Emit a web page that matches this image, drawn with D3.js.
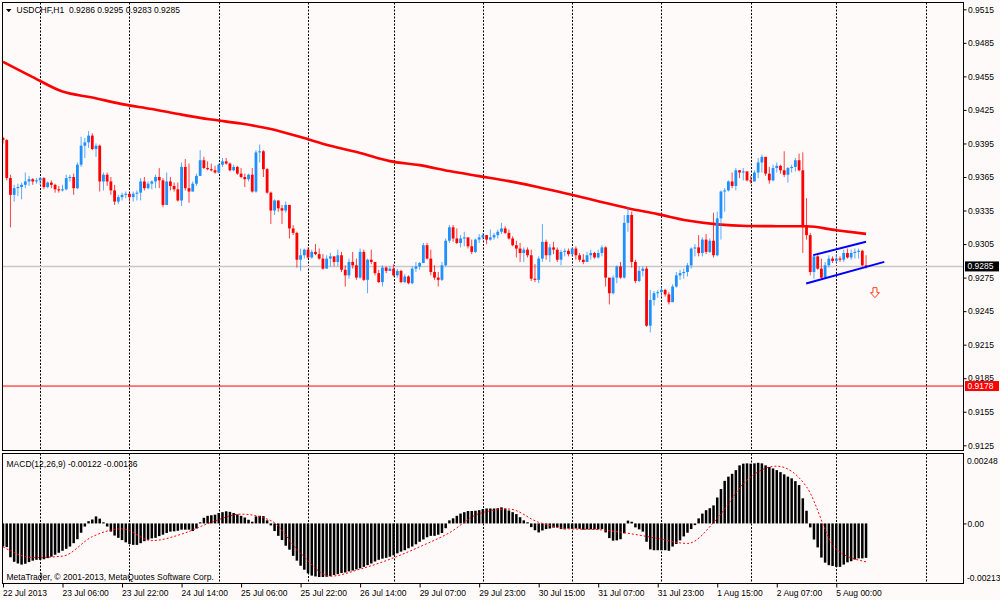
<!DOCTYPE html>
<html>
  <head>
    <meta charset="utf-8">
    <title>USDCHF,H1</title>
    <style>
      body { margin: 0; background: #fffafa; }
      svg { display: block; }
      text { font-family: "Liberation Sans", Arial, sans-serif; font-size: 8.5px; fill: #000; }
    </style>
  </head>
  <body>
    <script src="https://cdn.jsdelivr.net/npm/d3@7"></script>
    <script>
      // ---- data ----
      var symbol = 'USDCHF,H1';
      var firstOpen = 0.9400; // open of the first bar, the others open at the previous close

      var closes = [
        0.9398, 0.9364, 0.9349, 0.9355, 0.9356, 0.9358, 0.9361, 0.9363, 0.9361, 0.9362,
        0.9364, 0.9356, 0.9360, 0.9358, 0.9354, 0.9353, 0.9354, 0.9364, 0.9365, 0.9355,
        0.9376, 0.9393, 0.9396, 0.9402, 0.9390, 0.9393, 0.9361, 0.9367, 0.9361, 0.9353,
        0.9343, 0.9347, 0.9349, 0.9350, 0.9347, 0.9350, 0.9351, 0.9361, 0.9355, 0.9359,
        0.9361, 0.9365, 0.9362, 0.9340, 0.9361, 0.9357, 0.9354, 0.9344, 0.9374, 0.9355,
        0.9352, 0.9359, 0.9366, 0.9380, 0.9373, 0.9372, 0.9371, 0.9369, 0.9376, 0.9379,
        0.9377, 0.9371, 0.9374, 0.9368, 0.9365, 0.9363, 0.9367, 0.9352, 0.9387, 0.9388,
        0.9372, 0.9351, 0.9335, 0.9344, 0.9337, 0.9335, 0.9340, 0.9319, 0.9315, 0.9291,
        0.9295, 0.9300, 0.9293, 0.9298, 0.9296, 0.9292, 0.9283, 0.9292, 0.9294, 0.9289,
        0.9295, 0.9282, 0.9277, 0.9289, 0.9286, 0.9275, 0.9298, 0.9273, 0.9291, 0.9289,
        0.9279, 0.9271, 0.9284, 0.9281, 0.9283, 0.9277, 0.9281, 0.9271, 0.9276, 0.9270,
        0.9283, 0.9285, 0.9288, 0.9304, 0.9292, 0.9280, 0.9275, 0.9273, 0.9286, 0.9308,
        0.9320, 0.9310, 0.9306, 0.9310, 0.9311, 0.9303, 0.9298, 0.9309, 0.9311, 0.9313,
        0.9309, 0.9311, 0.9313, 0.9316, 0.9319, 0.9315, 0.9310, 0.9304, 0.9301, 0.9297,
        0.9300, 0.9295, 0.9274, 0.9273, 0.9292, 0.9307, 0.9295, 0.9302, 0.9300, 0.9291,
        0.9298, 0.9299, 0.9296, 0.9301, 0.9295, 0.9291, 0.9289, 0.9295, 0.9297, 0.9293,
        0.9297, 0.9302, 0.9275, 0.9261, 0.9275, 0.9285, 0.9275, 0.9324, 0.9331, 0.9289,
        0.9272, 0.9281, 0.9283, 0.9232, 0.9255, 0.9261, 0.9262, 0.9264, 0.9260, 0.9253,
        0.9267, 0.9277, 0.9279, 0.9280, 0.9286, 0.9301, 0.9302, 0.9297, 0.9309, 0.9298,
        0.9308, 0.9295, 0.9328, 0.9352, 0.9353, 0.9361, 0.9357, 0.9371, 0.9369, 0.9370,
        0.9362, 0.9361, 0.9369, 0.9378, 0.9383, 0.9368, 0.9362, 0.9373, 0.9375, 0.9371,
        0.9367, 0.9373, 0.9374, 0.9380, 0.9371, 0.9322, 0.9313, 0.9280, 0.9294, 0.9283,
        0.9275, 0.9286, 0.9292, 0.9290, 0.9292, 0.9291, 0.9297, 0.9293, 0.9297, 0.9298,
        0.9299, 0.9286, 0.9285
      ];

      var highs = [
        0.9401, 0.9399, 0.9367, 0.9358, 0.9359, 0.9360, 0.9369, 0.9366, 0.9364, 0.9364,
        0.9365, 0.9365, 0.9361, 0.9362, 0.9359, 0.9357, 0.9358, 0.9367, 0.9367, 0.9368,
        0.9378, 0.9401, 0.9400, 0.9406, 0.9404, 0.9395, 0.9394, 0.9369, 0.9369, 0.9365,
        0.9358, 0.9349, 0.9351, 0.9352, 0.9351, 0.9352, 0.9353, 0.9364, 0.9365, 0.9361,
        0.9362, 0.9367, 0.9373, 0.9364, 0.9369, 0.9365, 0.9360, 0.9360, 0.9378, 0.9381,
        0.9377, 0.9361, 0.9368, 0.9389, 0.9383, 0.9379, 0.9377, 0.9375, 0.9377, 0.9382,
        0.9382, 0.9378, 0.9376, 0.9375, 0.9373, 0.9368, 0.9368, 0.9373, 0.9389, 0.9394,
        0.9389, 0.9373, 0.9352, 0.9345, 0.9344, 0.9340, 0.9343, 0.9340, 0.9322, 0.9316,
        0.9301, 0.9301, 0.9302, 0.9300, 0.9305, 0.9301, 0.9296, 0.9295, 0.9297, 0.9294,
        0.9300, 0.9298, 0.9286, 0.9292, 0.9298, 0.9292, 0.9301, 0.9300, 0.9292, 0.9300,
        0.9289, 0.9282, 0.9286, 0.9285, 0.9285, 0.9287, 0.9283, 0.9282, 0.9278, 0.9277,
        0.9285, 0.9289, 0.9289, 0.9306, 0.9306, 0.9300, 0.9286, 0.9280, 0.9289, 0.9310,
        0.9322, 0.9322, 0.9319, 0.9313, 0.9316, 0.9309, 0.9309, 0.9310, 0.9314, 0.9315,
        0.9313, 0.9318, 0.9315, 0.9318, 0.9324, 0.9321, 0.9318, 0.9312, 0.9308, 0.9306,
        0.9302, 0.9302, 0.9300, 0.9287, 0.9294, 0.9323, 0.9309, 0.9305, 0.9307, 0.9302,
        0.9300, 0.9301, 0.9301, 0.9302, 0.9303, 0.9297, 0.9296, 0.9298, 0.9300, 0.9298,
        0.9300, 0.9304, 0.9303, 0.9274, 0.9277, 0.9286, 0.9289, 0.9331, 0.9338, 0.9334,
        0.9291, 0.9285, 0.9285, 0.9285, 0.9264, 0.9263, 0.9264, 0.9267, 0.9265, 0.9262,
        0.9269, 0.9280, 0.9282, 0.9283, 0.9288, 0.9302, 0.9305, 0.9313, 0.9311, 0.9314,
        0.9310, 0.9333, 0.9334, 0.9353, 0.9355, 0.9362, 0.9369, 0.9373, 0.9371, 0.9373,
        0.9370, 0.9366, 0.9371, 0.9382, 0.9385, 0.9383, 0.9374, 0.9376, 0.9378, 0.9376,
        0.9388, 0.9374, 0.9376, 0.9382, 0.9386, 0.9387, 0.9346, 0.9315, 0.9296, 0.9295,
        0.9292, 0.9289, 0.9295, 0.9294, 0.9296, 0.9294, 0.9300, 0.9301, 0.9300, 0.9301,
        0.9301, 0.9300, 0.9295
      ];

      var lows = [
        0.9395, 0.9362, 0.9320, 0.9343, 0.9348, 0.9345, 0.9355, 0.9357, 0.9358, 0.9359,
        0.9358, 0.9354, 0.9355, 0.9355, 0.9351, 0.9351, 0.9352, 0.9353, 0.9361, 0.9349,
        0.9354, 0.9374, 0.9382, 0.9391, 0.9389, 0.9383, 0.9352, 0.9353, 0.9357, 0.9349,
        0.9340, 0.9341, 0.9344, 0.9346, 0.9343, 0.9343, 0.9344, 0.9344, 0.9353, 0.9354,
        0.9354, 0.9355, 0.9355, 0.9338, 0.9340, 0.9353, 0.9352, 0.9343, 0.9339, 0.9353,
        0.9342, 0.9352, 0.9357, 0.9366, 0.9372, 0.9371, 0.9370, 0.9368, 0.9368, 0.9374,
        0.9376, 0.9370, 0.9370, 0.9367, 0.9364, 0.9356, 0.9361, 0.9351, 0.9351, 0.9378,
        0.9365, 0.9350, 0.9323, 0.9331, 0.9334, 0.9323, 0.9333, 0.9310, 0.9313, 0.9284,
        0.9281, 0.9292, 0.9292, 0.9292, 0.9295, 0.9291, 0.9282, 0.9285, 0.9285, 0.9285,
        0.9285, 0.9280, 0.9267, 0.9274, 0.9283, 0.9273, 0.9274, 0.9272, 0.9261, 0.9287,
        0.9277, 0.9270, 0.9267, 0.9279, 0.9281, 0.9276, 0.9275, 0.9270, 0.9270, 0.9269,
        0.9269, 0.9280, 0.9282, 0.9289, 0.9291, 0.9277, 0.9273, 0.9267, 0.9272, 0.9285,
        0.9306, 0.9307, 0.9305, 0.9302, 0.9303, 0.9301, 0.9296, 0.9297, 0.9306, 0.9309,
        0.9305, 0.9308, 0.9309, 0.9310, 0.9314, 0.9314, 0.9309, 0.9303, 0.9293, 0.9289,
        0.9289, 0.9293, 0.9272, 0.9271, 0.9270, 0.9289, 0.9291, 0.9289, 0.9296, 0.9289,
        0.9286, 0.9294, 0.9294, 0.9294, 0.9291, 0.9289, 0.9287, 0.9290, 0.9291, 0.9292,
        0.9292, 0.9294, 0.9267, 0.9251, 0.9260, 0.9270, 0.9274, 0.9274, 0.9316, 0.9284,
        0.9270, 0.9271, 0.9276, 0.9231, 0.9226, 0.9250, 0.9257, 0.9258, 0.9258, 0.9251,
        0.9255, 0.9266, 0.9273, 0.9274, 0.9276, 0.9283, 0.9294, 0.9294, 0.9294, 0.9296,
        0.9297, 0.9293, 0.9294, 0.9309, 0.9334, 0.9352, 0.9355, 0.9353, 0.9364, 0.9362,
        0.9361, 0.9359, 0.9361, 0.9364, 0.9369, 0.9366, 0.9359, 0.9361, 0.9369, 0.9368,
        0.9365, 0.9360, 0.9369, 0.9370, 0.9370, 0.9297, 0.9309, 0.9277, 0.9274, 0.9282,
        0.9274, 0.9274, 0.9284, 0.9288, 0.9288, 0.9289, 0.9289, 0.9292, 0.9291, 0.9292,
        0.9292, 0.9285, 0.9283
      ];

      // moving average, one value every maStep bars
      var maStep = 8;
      var maValues = [
        0.94681, 0.94544, 0.94414, 0.94361, 0.94302, 0.94258, 0.94208, 0.94164, 0.94128, 0.94079,
        0.94007, 0.93929, 0.93864, 0.93792, 0.93756, 0.93703, 0.93658, 0.93613, 0.93559, 0.93497,
        0.93434, 0.93371, 0.93318, 0.93260, 0.93226, 0.93212, 0.93210, 0.93209, 0.93174, 0.93141
      ];

      // MACD(12,26,9) histogram, one value per bar
      var macdValues = [
        -0.00082, -0.00084, -0.00120, -0.00136, -0.00142, -0.00146, -0.00143, -0.00137, -0.00132, -0.00129,
        -0.00129, -0.00127, -0.00123, -0.00118, -0.00111, -0.00104, -0.00097, -0.00090, -0.00082, -0.00070,
        -0.00056, -0.00033, -0.00011, 0.00008, 0.00014, 0.00025, 0.00017, 0.00004, -0.00011, -0.00029,
        -0.00043, -0.00051, -0.00059, -0.00067, -0.00073, -0.00076, -0.00076, -0.00070, -0.00063, -0.00058,
        -0.00053, -0.00051, -0.00045, -0.00040, -0.00034, -0.00029, -0.00028, -0.00026, -0.00022, -0.00022,
        -0.00022, -0.00027, -0.00018, 0.00004, 0.00020, 0.00027, 0.00029, 0.00031, 0.00037, 0.00040,
        0.00043, 0.00041, 0.00037, 0.00032, 0.00027, 0.00021, 0.00013, 0.00006, 0.00025, 0.00027,
        0.00026, 0.00011, -0.00007, -0.00027, -0.00044, -0.00059, -0.00079, -0.00093, -0.00115, -0.00132,
        -0.00150, -0.00164, -0.00177, -0.00185, -0.00188, -0.00190, -0.00190, -0.00189, -0.00187, -0.00183,
        -0.00180, -0.00176, -0.00174, -0.00170, -0.00167, -0.00163, -0.00159, -0.00154, -0.00148, -0.00142,
        -0.00135, -0.00129, -0.00125, -0.00122, -0.00118, -0.00113, -0.00106, -0.00100, -0.00095, -0.00088,
        -0.00082, -0.00074, -0.00065, -0.00057, -0.00049, -0.00044, -0.00044, -0.00040, -0.00034, -0.00017,
        0.00011, 0.00018, 0.00027, 0.00035, 0.00040, 0.00044, 0.00044, 0.00045, 0.00047, 0.00051,
        0.00053, 0.00053, 0.00053, 0.00054, 0.00057, 0.00053, 0.00046, 0.00040, 0.00033, 0.00022,
        0.00011, 0.00004, -0.00013, -0.00024, -0.00032, -0.00025, -0.00020, -0.00018, -0.00015, -0.00014,
        -0.00020, -0.00021, -0.00018, -0.00019, -0.00018, -0.00019, -0.00022, -0.00021, -0.00021, -0.00021,
        -0.00021, -0.00020, -0.00032, -0.00052, -0.00061, -0.00060, -0.00056, -0.00035, 0.00010, 0.00006,
        -0.00014, -0.00021, -0.00029, -0.00065, -0.00092, -0.00095, -0.00095, -0.00095, -0.00095, -0.00097,
        -0.00082, -0.00073, -0.00060, -0.00046, -0.00033, -0.00020, -0.00006, 0.00018, 0.00035, 0.00047,
        0.00054, 0.00064, 0.00092, 0.00122, 0.00151, 0.00166, 0.00176, 0.00189, 0.00206, 0.00212,
        0.00213, 0.00212, 0.00213, 0.00215, 0.00213, 0.00206, 0.00200, 0.00195, 0.00189, 0.00182,
        0.00174, 0.00166, 0.00160, 0.00150, 0.00136, 0.00089, 0.00045, -0.00014, -0.00057, -0.00085,
        -0.00121, -0.00139, -0.00148, -0.00151, -0.00154, -0.00154, -0.00146, -0.00138, -0.00134, -0.00128,
        -0.00124, -0.00124, -0.00122
      ];

      // signal line, one value every signalStep bars
      var signalStep = 8;
      var signalValues = [
        -0.00083, -0.00121, -0.00116, -0.00047, -0.00019, -0.00061, -0.00038, 0.00004, 0.00033, 0.00010,
        -0.00106, -0.00187, -0.00162, -0.00127, -0.00083, -0.00033, 0.00035, 0.00051, 0.00004, -0.00019,
        -0.00022, -0.00035, -0.00053, -0.00071, 0.00018, 0.00154, 0.00203, 0.00130, -0.00092, -0.00136
      ];

      var labelStep = 16;
      var timeLabels = ['22 Jul 2013', '23 Jul 06:00', '23 Jul 22:00', '24 Jul 14:00', '25 Jul 06:00',
        '25 Jul 22:00', '26 Jul 14:00', '29 Jul 07:00', '29 Jul 23:00', '30 Jul 15:00', '31 Jul 07:00',
        '31 Jul 23:00', '1 Aug 15:00', '2 Aug 07:00', '5 Aug 00:00'];
      var dayBars = [10, 34, 58, 82, 105, 129, 153, 177, 201, 224, 248]; // bars opening each day
      var priceTicks = [0.9515, 0.9485, 0.9455, 0.9425, 0.9395, 0.9365, 0.9335, 0.9305, 0.9275,
        0.9245, 0.9215, 0.9185, 0.9155, 0.9125];
      var bidPrice = 0.9285;
      var levelPrice = 0.9178;
      var macdMax = 0.00248, macdMin = -0.00213;
      // channel trend lines: [bar1, price1, bar2, price2]
      var channel = [[217.8, 0.92951, 232, 0.93070], [215.9, 0.92697, 236.9, 0.92891]];
      var arrowMark = {bar: 234.4, price: 0.9266};

      // ---- layout ----
      var
        width = 1000,
        height = 600,
        left = 2.5,
        right = 963.5,
        mainTop = 2.5,
        mainBottom = 450.5,
        subTop = 453.5,
        subBottom = 583.5,
        barStep = 3.72,
        bodyWidth = 2.8;

      var upColor = '#1e90ff', downColor = '#ff0000';

      var svg = d3.select('body')
        .append('svg')
        .attr('width', width)
        .attr('height', height);

      svg.append('rect')
        .attr('width', width)
        .attr('height', height)
        .attr('fill', '#fffafa');

      var x = d3.scaleLinear().domain([0, 1]).range([3, 3 + barStep]);
      var y = d3.scaleLinear().domain([0.9125, 0.9515]).range([445.3, 9.3]);
      var ym = d3.scaleLinear().domain([macdMin, macdMax]).range([subBottom, subTop]);

      var bars = closes.map(function(c, i) {
        return {i: i, o: i ? closes[i - 1] : firstOpen, h: highs[i], l: lows[i], c: c};
      });

      var defs = svg.append('defs');
      defs.append('clipPath').attr('id', 'mainClip')
        .append('rect')
        .attr('x', left).attr('y', mainTop)
        .attr('width', right - left).attr('height', mainBottom - mainTop);
      defs.append('clipPath').attr('id', 'subClip')
        .append('rect')
        .attr('x', left).attr('y', subTop)
        .attr('width', right - left).attr('height', subBottom - subTop);

      var main = svg.append('g').attr('clip-path', 'url(#mainClip)');
      var sub = svg.append('g').attr('clip-path', 'url(#subClip)');

      // day separators
      [[main, mainTop, mainBottom], [sub, subTop, subBottom]].forEach(function(p) {
        p[0].selectAll('.grid').data(dayBars).enter()
          .append('line')
          .classed('grid', true)
          .attr('x1', function(d) { return Math.round(x(d)) + 0.5; })
          .attr('x2', function(d) { return Math.round(x(d)) + 0.5; })
          .attr('y1', p[1])
          .attr('y2', p[2])
          .attr('stroke', '#000')
          .attr('stroke-dasharray', '2,1.5');
      });

      // horizontal level and bid line
      main.append('line')
        .attr('x1', left).attr('x2', right)
        .attr('y1', y(levelPrice)).attr('y2', y(levelPrice))
        .attr('stroke', '#ff0000');
      main.append('line')
        .attr('x1', left).attr('x2', right)
        .attr('y1', y(bidPrice)).attr('y2', y(bidPrice))
        .attr('stroke', '#c8c8c8')
        .attr('stroke-width', 1.6);

      // moving average
      var maLine = d3.line()
        .x(function(d, i) { return x(i * maStep); })
        .y(function(d) { return y(d); })
        .curve(d3.curveMonotoneX);
      main.append('path')
        .datum(maValues)
        .attr('d', maLine)
        .attr('fill', 'none')
        .attr('stroke', '#ff0000')
        .attr('stroke-width', 2.6);

      // candles
      var candle = main.selectAll('.candle').data(bars).enter()
        .append('g')
        .classed('candle', true);
      candle.append('line')
        .attr('x1', function(d) { return x(d.i); })
        .attr('x2', function(d) { return x(d.i); })
        .attr('y1', function(d) { return y(d.h); })
        .attr('y2', function(d) { return y(d.l); })
        .attr('stroke', function(d) { return d.c >= d.o ? upColor : downColor; })
        .attr('stroke-width', 1)
        .attr('stroke-opacity', 0.75);
      candle.append('rect')
        .attr('x', function(d) { return x(d.i) - bodyWidth / 2; })
        .attr('y', function(d) { return y(Math.max(d.o, d.c)); })
        .attr('width', bodyWidth)
        .attr('height', function(d) { return Math.max(1, Math.abs(y(d.o) - y(d.c))); })
        .attr('fill', function(d) { return d.c >= d.o ? upColor : downColor; });

      // channel
      main.selectAll('.trend').data(channel).enter()
        .append('line')
        .classed('trend', true)
        .attr('x1', function(d) { return x(d[0]); })
        .attr('y1', function(d) { return y(d[1]); })
        .attr('x2', function(d) { return x(d[2]); })
        .attr('y2', function(d) { return y(d[3]); })
        .attr('stroke', '#0000ff')
        .attr('stroke-width', 2);

      // sell arrow
      var ax = x(arrowMark.bar), ay = y(arrowMark.price);
      main.append('path')
        .attr('d', 'M' + (ax - 2) + ',' + ay + 'h4v5h2.5l-4.5,5l-4.5,-5h2.5z')
        .attr('fill', '#fff')
        .attr('stroke', '#ff3c14')
        .attr('stroke-width', 1);

      // MACD histogram and signal
      sub.selectAll('.hist').data(macdValues).enter()
        .append('rect')
        .classed('hist', true)
        .attr('x', function(d, i) { return x(i) - 1.25; })
        .attr('y', function(d) { return Math.min(ym(d), ym(0)); })
        .attr('width', 2.5)
        .attr('height', function(d) { return Math.abs(ym(d) - ym(0)); })
        .attr('fill', '#000');

      var signalLine = d3.line()
        .x(function(d, i) { return x(i * signalStep); })
        .y(function(d) { return ym(d); })
        .curve(d3.curveMonotoneX);
      sub.append('path')
        .datum(signalValues)
        .attr('d', signalLine)
        .attr('fill', 'none')
        .attr('stroke', '#ff0000')
        .attr('stroke-width', 1)
        .attr('stroke-dasharray', '2,2');

      // frames
      svg.append('rect')
        .attr('x', left).attr('y', mainTop)
        .attr('width', right - left).attr('height', mainBottom - mainTop)
        .attr('fill', 'none').attr('stroke', '#000');
      svg.append('rect')
        .attr('x', left).attr('y', subTop)
        .attr('width', right - left).attr('height', subBottom - subTop)
        .attr('fill', 'none').attr('stroke', '#000');

      // price axis
      var yAxis = d3.axisRight(y)
        .tickValues(priceTicks)
        .tickFormat(d3.format('.4f'))
        .tickSizeInner(3)
        .tickSizeOuter(0)
        .tickPadding(1.5);
      svg.append('g')
        .attr('transform', 'translate(' + right + ',0)')
        .call(yAxis)
        .call(function(g) { g.select('.domain').remove(); });

      // price boxes on the axis
      function priceBox(price, fill) {
        svg.append('rect')
          .attr('x', right + 1.5)
          .attr('y', y(price) - 5)
          .attr('width', 34)
          .attr('height', 10)
          .attr('fill', fill);
        svg.append('text')
          .attr('x', right + 4)
          .attr('y', y(price))
          .attr('dy', '0.35em')
          .style('fill', '#fff')
          .text(d3.format('.4f')(price));
      }
      priceBox(bidPrice, '#000');
      priceBox(levelPrice, '#ff0000');

      // MACD axis
      var mAxis = d3.axisRight(ym)
        .tickValues([0])
        .tickFormat(d3.format('.2f'))
        .tickSizeInner(3)
        .tickSizeOuter(0)
        .tickPadding(1);
      svg.append('g')
        .attr('transform', 'translate(' + right + ',0)')
        .call(mAxis)
        .call(function(g) { g.select('.domain').remove(); });
      svg.append('text')
        .attr('x', right + 3.5).attr('y', subTop + 7.5).attr('dy', '0.35em')
        .text(d3.format('.5f')(macdMax));
      svg.append('text')
        .attr('x', right + 3.5).attr('y', subBottom - 5).attr('dy', '0.35em')
        .text(d3.format('.5f')(macdMin).replace('\u2212', '-'));

      // time axis
      var xAxis = d3.axisBottom(x)
        .tickValues(timeLabels.map(function(d, i) { return i * labelStep; }))
        .tickFormat(function(d, i) { return timeLabels[i]; })
        .tickSizeInner(4)
        .tickSizeOuter(0)
        .tickPadding(2);
      svg.append('g')
        .attr('transform', 'translate(0,' + subBottom + ')')
        .call(xAxis)
        .call(function(g) {
          g.select('.domain').remove();
          g.selectAll('text').attr('text-anchor', 'start').attr('x', -0.5);
        });

      // titles
      var last = bars[bars.length - 1];
      svg.append('path')
        .attr('d', 'M6,9L11.5,9L8.75,12.3Z')
        .attr('fill', '#000');
      svg.append('text')
        .attr('x', 16.5).attr('y', 13.3)
        .style('white-space', 'pre')
        .text(symbol + '  ' + [last.o, last.h, last.l, last.c].map(d3.format('.4f')).join(' '));
      svg.append('text')
        .attr('x', 6.5).attr('y', 466.5)
        .text('MACD(12,26,9) ' + d3.format('.5f')(macdValues[macdValues.length - 1]).replace('\u2212', '-') +
          ' ' + d3.format('.5f')(signalValues[signalValues.length - 1]).replace('\u2212', '-'));
      svg.append('text')
        .attr('x', 6.5).attr('y', 580)
        .text('MetaTrader, \u00a9 2001-2013, MetaQuotes Software Corp.');
    </script>
  </body>
</html>
